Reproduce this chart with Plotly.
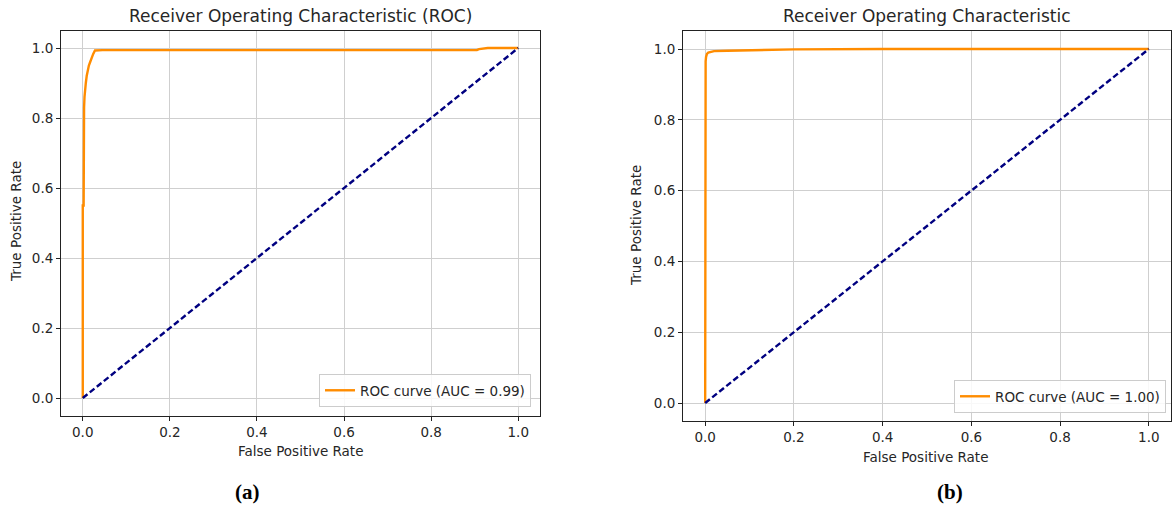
import plotly.graph_objects as go

# ---- data ----
fpr_a = [0.0, 0.0, 0.002, 0.002, 0.003, 0.004, 0.005, 0.007, 0.009, 0.011, 0.014, 0.017, 0.020, 0.024, 0.028, 0.045, 0.905, 0.910, 0.930, 1.0]
tpr_a = [0.0, 0.55, 0.55, 0.80, 0.83, 0.86, 0.88, 0.90, 0.92, 0.935, 0.95, 0.96, 0.972, 0.983, 0.993, 0.994, 0.994, 0.997, 1.0, 1.0]

fpr_b = [0.0, 0.0, 0.001, 0.002, 0.004, 0.007, 0.012, 0.02, 0.05, 0.1, 0.2, 0.4, 0.8, 1.0]
tpr_b = [0.0, 0.94, 0.965, 0.978, 0.986, 0.990, 0.992, 0.994, 0.995, 0.997, 0.999, 1.0, 1.0, 1.0]

diag = [0.0, 1.0]
ticks = [0.0, 0.2, 0.4, 0.6, 0.8, 1.0]
tick_text = ["0.0", "0.2", "0.4", "0.6", "0.8", "1.0"]

titles = ["Receiver Operating Characteristic (ROC)", "Receiver Operating Characteristic"]
names = ["ROC curve (AUC = 0.99)", "ROC curve (AUC = 1.00)"]
panel_labels = ["(a)", "(b)"]

W, H = 1172, 508
ORANGE = "#ff8c00"
NAVY = "#000080"
FONT = "DejaVu Sans"
TXT = "#262626"

def px(x):
    return x / W

def py(y):
    return 1 - y / H

fig = go.Figure()

fig.add_trace(go.Scatter(x=fpr_a, y=tpr_a, mode="lines", name=names[0],
                         line=dict(color=ORANGE, width=2.4), xaxis="x", yaxis="y", legend="legend"))
fig.add_trace(go.Scatter(x=diag, y=diag, mode="lines", showlegend=False,
                         line=dict(color=NAVY, width=2.4, dash="6px,3px"), xaxis="x", yaxis="y"))
fig.add_trace(go.Scatter(x=fpr_b, y=tpr_b, mode="lines", name=names[1],
                         line=dict(color=ORANGE, width=2.4), xaxis="x2", yaxis="y2", legend="legend2"))
fig.add_trace(go.Scatter(x=diag, y=diag, mode="lines", showlegend=False,
                         line=dict(color=NAVY, width=2.4, dash="6px,3px"), xaxis="x2", yaxis="y2"))

axis_common = dict(
    range=[-0.05, 1.05], tickvals=ticks, ticktext=tick_text,
    showgrid=True, gridcolor="#cfcfcf", gridwidth=1,
    zeroline=False, showline=True, linecolor="#222222", linewidth=1, mirror=True,
    ticks="outside", ticklen=4, tickcolor="#222222",
    tickfont=dict(family=FONT, size=13.5, color=TXT),
)

legend_common = dict(
    bgcolor="rgba(255,255,255,0.85)", bordercolor="#cccccc", borderwidth=1,
    font=dict(family=FONT, size=13.5, color=TXT),
    xanchor="right", yanchor="bottom", itemwidth=30,
    tracegroupgap=0,
)

fig.update_layout(
    width=W, height=H,
    margin=dict(l=0, r=0, t=0, b=0),
    paper_bgcolor="white", plot_bgcolor="white",
    xaxis=dict(domain=[px(61), px(540)], anchor="y", **axis_common),
    yaxis=dict(domain=[py(415.5), py(30.5)], anchor="x", **axis_common),
    xaxis2=dict(domain=[px(683), px(1171)], anchor="y2", **axis_common),
    yaxis2=dict(domain=[py(420.7), py(31.3)], anchor="x2", **axis_common),
    legend=dict(x=px(531), y=py(407), **legend_common),
    legend2=dict(x=px(1166), y=py(413), **legend_common),
)

annots = [
    dict(x=px(300), y=py(16), text=titles[0], font=dict(family=FONT, size=17, color=TXT)),
    dict(x=px(927), y=py(16), text=titles[1], font=dict(family=FONT, size=17, color=TXT)),
    dict(x=px(300), y=py(451), text="False Positive Rate", font=dict(family=FONT, size=13.5, color=TXT)),
    dict(x=px(925), y=py(457), text="False Positive Rate", font=dict(family=FONT, size=13.5, color=TXT)),
    dict(x=px(16), y=py(222), text="True Positive Rate", textangle=-90, font=dict(family=FONT, size=13.5, color=TXT)),
    dict(x=px(636), y=py(226), text="True Positive Rate", textangle=-90, font=dict(family=FONT, size=13.5, color=TXT)),
    dict(x=px(247), y=py(492), text="<b>" + panel_labels[0] + "</b>", font=dict(family="Liberation Serif", size=21, color="black")),
    dict(x=px(950), y=py(492), text="<b>" + panel_labels[1] + "</b>", font=dict(family="Liberation Serif", size=21, color="black")),
]
for a in annots:
    a.update(xref="paper", yref="paper", showarrow=False, xanchor="center", yanchor="middle")
    fig.add_annotation(**a)

fig.write_html(
    "out.html",
    config={"displayModeBar": False},
    post_script="document.body.style.margin='0';document.body.style.overflow='hidden';",
)
